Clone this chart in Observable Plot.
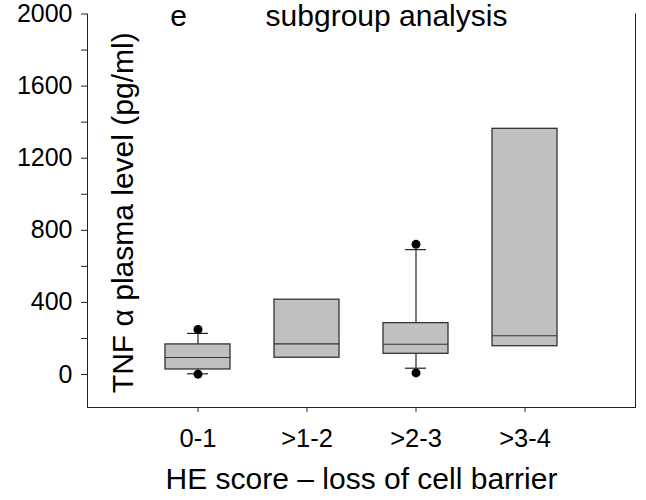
<!DOCTYPE html>
<html><head><meta charset="utf-8">
<script src="https://cdn.jsdelivr.net/npm/d3@7"></script>
<script src="https://cdn.jsdelivr.net/npm/@observablehq/plot@0.6"></script>
<style>body{margin:0;background:#fff;} #chart{width:646px;height:500px;}</style>
</head><body><div id="chart"></div>
<script>
const categories = ["0-1", ">1-2", ">2-3", ">3-4"];
const q1 = [28, 93, 115, 157];
const median = [94, 170, 168, 215];
const q3 = [167, 415, 285, 1363];
const whiskerLow = [4, null, 35, null];
const whiskerHigh = [228, null, 693, null];
const outlierLow = [2, null, 9, null];
const outlierHigh = [250, null, 722, null];
const yTicks = [0, 400, 800, 1200, 1600, 2000];
const yMinorTicks = [200, 600, 1000, 1400, 1800];
const panelLetter = "e";
const title = "subgroup analysis";
const yLabel = "TNF α plasma level (pg/ml)";
const xLabel = "HE score – loss of cell barrier";

const boxes = categories.map((c, i) => ({cat: c, q1: q1[i], median: median[i], q3: q3[i], lo: whiskerLow[i], hi: whiskerHigh[i]}));
const whiskers = boxes.filter(d => d.lo != null);
const outliers = categories.flatMap((c, i) => [outlierLow[i], outlierHigh[i]].filter(v => v != null).map(v => ({cat: c, v})));

const font = "'Liberation Sans', Arial, Helvetica, sans-serif";
const plot = Plot.plot({
  width: 646, height: 500,
  marginLeft: 87, marginRight: 11, marginTop: 13.5, marginBottom: 93,
  style: {fontFamily: font, background: "#fff", color: "#000"},
  x: {type: "band", domain: categories, paddingInner: 0.4, paddingOuter: 0.7},
  y: {domain: [-183, 2000]},
  marks: [
    Plot.frame({anchor: "left", stroke: "#222"}),
    Plot.frame({anchor: "bottom", stroke: "#222"}),
    Plot.frame({anchor: "right", stroke: "#222"}),
    Plot.ruleX(whiskers, {x: "cat", y1: "q3", y2: "hi", stroke: "#222", strokeWidth: 1.2}),
    Plot.ruleX(whiskers, {x: "cat", y1: "lo", y2: "q1", stroke: "#222", strokeWidth: 1.2}),
    Plot.barY(boxes, {x: "cat", y1: "q1", y2: "q3", fill: "#c0c0c0", stroke: "#333", strokeWidth: 1.3}),
    Plot.tickY(boxes, {x: "cat", y: "median", stroke: "#333", strokeWidth: 1.1}),
    Plot.tickY(whiskers, {x: "cat", y: "hi", insetLeft: 22, insetRight: 22, stroke: "#222", strokeWidth: 1.2}),
    Plot.tickY(whiskers, {x: "cat", y: "lo", insetLeft: 22, insetRight: 22, stroke: "#222", strokeWidth: 1.2}),
    Plot.dot(outliers, {x: "cat", y: "v", r: 4.5, fill: "#000", stroke: "none"}),
    Plot.axisY({ticks: yTicks, tickSize: 6, tickPadding: 9, fontSize: 25, tickFormat: d => String(d), label: null, stroke: "#222"}),
    Plot.axisY({ticks: yMinorTicks, tickSize: 6, tickFormat: () => "", label: null, stroke: "#222"}),
    Plot.axisX({tickSize: 5, tickPadding: 16, fontSize: 25.5, label: null, stroke: "#222"}),
    Plot.text([yLabel], {text: d => d, frameAnchor: "left", dx: 35.5, dy: 2, rotate: -90, textAnchor: "middle", lineAnchor: "middle", fontSize: 30, fill: "#000"}),
    Plot.text([xLabel], {text: d => d, frameAnchor: "bottom", dy: 60, lineAnchor: "top", textAnchor: "middle", fontSize: 30, fill: "#000"}),
    Plot.text([panelLetter], {text: d => d, frameAnchor: "top-left", dx: 91, dy: -9, lineAnchor: "top", textAnchor: "middle", fontSize: 30, fill: "#000"}),
    Plot.text([title], {text: d => d, frameAnchor: "top-left", dx: 299, dy: -9, lineAnchor: "top", textAnchor: "middle", fontSize: 30, fill: "#000"})
  ]
});
document.getElementById("chart").appendChild(plot);
</script>
</body></html>
